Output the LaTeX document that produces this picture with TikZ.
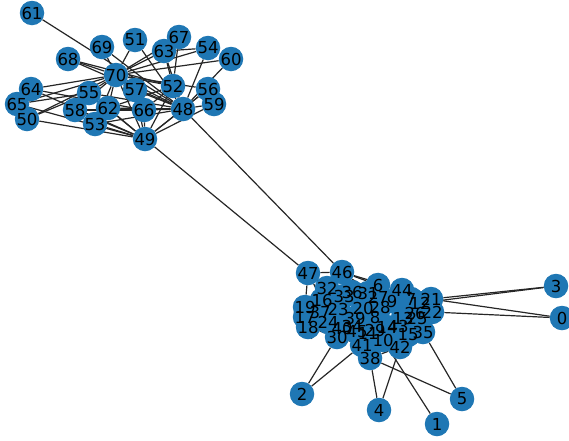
\documentclass[tikz,border=0pt]{standalone}
\usepackage{fontspec}
\setmainfont{DejaVu Sans}
\definecolor{nxblue}{RGB}{31,119,180}
\pgfdeclarelayer{background}
\pgfdeclarelayer{labels}
\pgfsetlayers{background,main,labels}
\begin{document}
\begin{tikzpicture}[x=1pt,y=-1pt,
  vx/.style={circle,fill=nxblue,draw=none,minimum size=24.5pt,inner sep=0pt},
  lbl/.style={inner sep=0pt,font=\fontsize{16.5}{18}\selectfont,text=black},
  edge/.style={draw=black!85,line width=1.2pt}]
\useasboundingbox (0,0) rectangle (569,440);
\foreach \n/\x/\y in {0/562/318, 1/437/424, 2/302/394, 3/556/286, 4/379/410, 5/462/399,
  6/378/285, 7/411/299, 8/375/317, 9/392/301, 10/383/340, 11/368/333, 12/420/303,
  13/403/318, 14/387/327, 15/408/335, 16/322/300, 17/305/317, 18/308/327, 19/305/307,
  20/363/308, 21/431/299, 22/432/312, 23/338/309, 24/328/322, 25/417/318, 26/415/313,
  27/378/297, 28/380/307, 29/375/330, 30/337/337, 31/368/293, 32/327/288, 33/344/296,
  34/352/326, 35/423/332, 36/352/292, 37/320/312, 38/370/358, 39/355/318, 40/342/328,
  41/362/345, 42/400/347, 43/398/326, 44/402/290, 45/357/332, 46/342/272, 47/308/273,
  48/183/109, 49/145/139, 50/27/119, 51/135/40, 52/173/86, 53/95/124, 54/208/48,
  55/89/93, 56/208/89, 57/135/90, 58/75/110, 59/214/104, 60/231/59, 61/32/13,
  62/108/108, 63/164/51, 64/31/89, 65/17/104, 66/144/110, 67/179/37, 68/68/59,
  69/102/47, 70/116/75}
  \node[vx] (n\n) at (\x,\y) {};
\begin{pgfonlayer}{background}
\foreach \a/\b in {70/69, 70/51, 70/63, 70/67, 70/54, 70/60, 70/68, 70/64, 70/55, 70/57,
  70/52, 70/58, 70/62, 70/66, 70/48, 70/50, 70/53, 70/49, 70/56, 70/65,
  48/52, 48/56, 48/59, 48/54, 48/60, 48/63, 48/51, 48/69, 48/57, 48/66, 48/62, 48/55,
  48/58, 48/53, 48/49, 48/61, 48/46, 48/68,
  49/53, 49/50, 49/58, 49/62, 49/66, 49/65, 49/55, 49/64, 49/52, 49/56, 49/59, 49/47, 49/57,
  52/63, 52/67, 52/62, 52/66, 52/68, 64/66, 65/55, 50/55, 53/62, 58/66, 62/66, 59/56, 63/54,
  47/46, 47/19, 47/32, 47/16, 46/6, 46/31, 46/44, 46/36, 46/27, 46/32,
  3/21, 3/12, 0/22, 0/21, 2/30, 2/41, 4/38, 4/42, 5/35, 5/38, 1/10,
  6/44, 6/31, 6/27, 44/7, 44/21, 7/12, 12/21, 21/22, 22/26, 26/25, 25/35, 35/15, 15/42,
  42/10, 10/29, 29/41, 41/38, 38/42, 30/41, 30/18, 18/17, 17/19, 19/16, 16/32, 32/33,
  33/36, 36/31, 31/27, 27/9, 9/28, 28/20, 20/23, 23/37, 37/16, 24/40, 40/30, 24/18,
  39/34, 34/45, 45/40, 45/41, 39/20, 8/14, 14/43, 43/13, 13/25, 11/29, 11/45, 8/28,
  9/7, 14/10, 43/15, 24/37, 30/45, 18/40, 30/24, 41/10}
  \draw[edge] (n\a) -- (n\b);
\end{pgfonlayer}
\begin{pgfonlayer}{labels}
\foreach \n in {0,...,70}
  \node[lbl] at (n\n) {\n};
\end{pgfonlayer}
\end{tikzpicture}
\end{document}
